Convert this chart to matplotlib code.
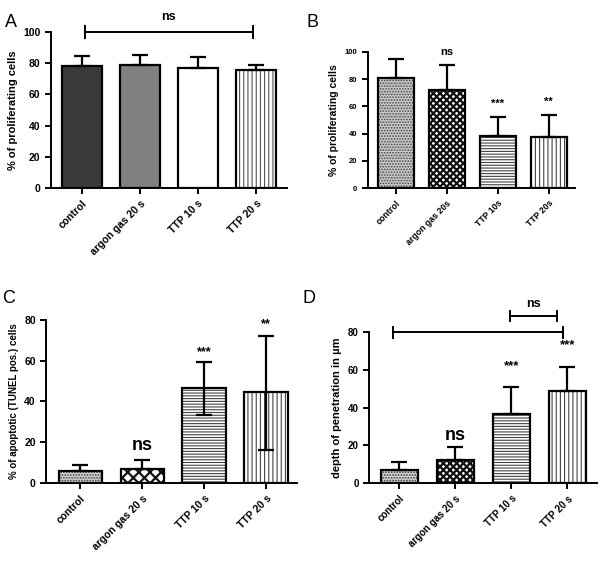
import matplotlib.pyplot as plt
import numpy as np

plt.rcParams['font.family'] = ['Liberation Sans', 'DejaVu Sans']
plt.rcParams['font.weight'] = 'bold'

# Panel A: % of proliferating cells
a_labels = ["control", "argon gas 20 s", "TTP 10 s", "TTP 20 s"]
a_means = [78, 78.6, 76.7, 76]
a_err = [6.8, 6.9, 7.3, 3]

# Panel B: % of proliferating cells
b_labels = ["control", "argon gas 20s", "TTP 10s", "TTP 20s"]
b_means = [80.9, 72, 38, 37.3]
b_err = [13.5, 18, 14.2, 16.4]
b_marks = ["", "ns", "***", "**"]

# Panel C: % apoptotic cells
c_labels = ["control", "argon gas 20 s", "TTP 10 s", "TTP 20 s"]
c_means = [5.7, 7.0, 46.7, 44.4]
c_err_up = [3.0, 4.5, 12.8, 27.7]
c_err_low = [0, 0, 13.4, 28.3]
c_marks = ["", "ns", "***", "**"]

# Panel D: depth of penetration
d_labels = ["control", "argon gas 20 s", "TTP 10 s", "TTP 20 s"]
d_means = [7.1, 12.4, 36.7, 48.9]
d_err = [3.8, 6.5, 14.2, 12.4]
d_marks = ["", "ns", "***", "***"]


def draw_bars(ax, means, err_low, err_up, styles, width):
    x = np.arange(len(means))
    for i, (fc, hatch, hc, hlw) in enumerate(styles):
        plt.rcParams['hatch.linewidth'] = hlw
        ax.bar(x[i], means[i], width, color=fc, hatch=hatch, edgecolor=hc,
               linewidth=0, zorder=2)
        ax.bar(x[i], means[i], width, fill=False, edgecolor='black',
               linewidth=1.6, zorder=3)
    ax.errorbar(x, means, yerr=[err_low, err_up], fmt='none', ecolor='black',
                elinewidth=1.6, capsize=5.5, capthick=1.6, zorder=4)
    return x


def style_axis(ax, labels, ylabel, ylim, yticks, xlim, tick_fs=7, label_fs=7.5,
               ytick_fs=None):
    ax.set_xlim(*xlim)
    ax.set_ylim(*ylim)
    ax.set_yticks(yticks)
    ax.set_xticks(range(len(labels)))
    ax.set_xticklabels(labels, rotation=45, ha='right', rotation_mode='anchor',
                       fontsize=tick_fs, fontweight='bold')
    ax.set_ylabel(ylabel, fontsize=label_fs, fontweight='bold')
    for s in ['top', 'right']:
        ax.spines[s].set_visible(False)
    for s in ['left', 'bottom']:
        ax.spines[s].set_linewidth(1.4)
    ax.tick_params(width=1.4, length=4)
    ax.tick_params(axis='y', labelsize=ytick_fs or tick_fs)
    for t in ax.get_yticklabels():
        t.set_fontweight('bold')


def bracket(ax, x0, x1, y, h):
    ax.plot([x0, x1], [y, y], color='black', lw=1.4, clip_on=False)
    ax.plot([x0, x0], [y - h, y + h], color='black', lw=1.4, clip_on=False)
    ax.plot([x1, x1], [y - h, y + h], color='black', lw=1.4, clip_on=False)


fig = plt.figure(figsize=(6, 5.63), dpi=100)
zeros = [0, 0, 0, 0]

# A
axA = fig.add_axes([0.085, 0.666, 0.393, 0.277])
stylesA = [('#3a3a3a', None, '#3a3a3a', 0.8), ('#808080', None, '#808080', 0.8),
           ('white', None, 'white', 0.8), ('white', '||||', '#555555', 0.8)]
draw_bars(axA, a_means, zeros, a_err, stylesA, 0.69)
style_axis(axA, a_labels, "% of proliferating cells", (0, 100),
           [0, 20, 40, 60, 80, 100], (-0.53, 3.53), tick_fs=7.5, label_fs=8)
bracket(axA, 0.05, 2.95, 100, 4)
axA.text(1.5, 106, "ns", ha='center', va='bottom', fontsize=9, fontweight='bold',
         clip_on=False)
fig.text(0.008, 0.975, "A", fontsize=13, fontweight='normal', va='top')

# B
axB = fig.add_axes([0.613, 0.666, 0.345, 0.242])
stylesB = [('#c8c8c8', '......', '#444444', 0.8), ('white', 'xxxxx', '#111111', 1.6),
           ('white', '------', '#444444', 0.8), ('white', '||||', '#444444', 0.8)]
draw_bars(axB, b_means, zeros, b_err, stylesB, 0.7)
style_axis(axB, b_labels, "% of proliferating cells", (0, 100),
           [0, 20, 40, 60, 80, 100], (-0.55, 3.51), tick_fs=6.3, label_fs=7.5,
           ytick_fs=5.5)
for i, m in enumerate(b_marks):
    if m:
        axB.text(i, b_means[i] + b_err[i] + 6, m, ha='center', va='bottom',
                 fontsize=8, fontweight='bold')
fig.text(0.51, 0.975, "B", fontsize=13, fontweight='normal', va='top')

# C
axC = fig.add_axes([0.077, 0.142, 0.418, 0.290])
stylesC = [('#d0d0d0', '......', '#333333', 0.8), ('white', 'xxx', '#111111', 1.6),
           ('white', '------', '#444444', 0.8), ('white', '||||', '#444444', 0.8)]
draw_bars(axC, c_means, c_err_low, c_err_up, stylesC, 0.7)
style_axis(axC, c_labels, "% of apoptotic (TUNEL pos.) cells", (0, 80),
           [0, 20, 40, 60, 80], (-0.55, 3.5), tick_fs=7.5, label_fs=7)
c_mark_y = [0, 14, 61, 75]
c_mark_fs = [8, 13, 9, 9]
for i, m in enumerate(c_marks):
    if m:
        axC.text(i, c_mark_y[i], m, ha='center', va='bottom',
                 fontsize=c_mark_fs[i], fontweight='bold', clip_on=False)
fig.text(0.003, 0.485, "C", fontsize=13, fontweight='normal', va='top')

# D
axD = fig.add_axes([0.615, 0.142, 0.38, 0.268])
stylesD = [('#d0d0d0', '......', '#333333', 0.8), ('white', 'xxxxx', '#111111', 1.6),
           ('white', '------', '#444444', 0.8), ('white', '||||', '#444444', 0.8)]
draw_bars(axD, d_means, zeros, d_err, stylesD, 0.66)
style_axis(axD, d_labels, "depth of penetration in \u00b5m", (0, 80),
           [0, 20, 40, 60, 80], (-0.54, 3.53), tick_fs=7, label_fs=8)
d_mark_y = [0, 20.5, 59, 70]
d_mark_fs = [8, 13, 9.5, 9.5]
for i, m in enumerate(d_marks):
    if m:
        axD.text(i, d_mark_y[i], m, ha='center', va='bottom',
                 fontsize=d_mark_fs[i], fontweight='bold', clip_on=False)
bracket(axD, -0.12, 2.92, 80, 3)
bracket(axD, 1.97, 2.81, 88.7, 2.7)
axD.text(2.39, 92, "ns", ha='center', va='bottom', fontsize=9,
         fontweight='bold', clip_on=False)
fig.text(0.505, 0.485, "D", fontsize=13, fontweight='normal', va='top')

fig.savefig("out.png", dpi=100)
